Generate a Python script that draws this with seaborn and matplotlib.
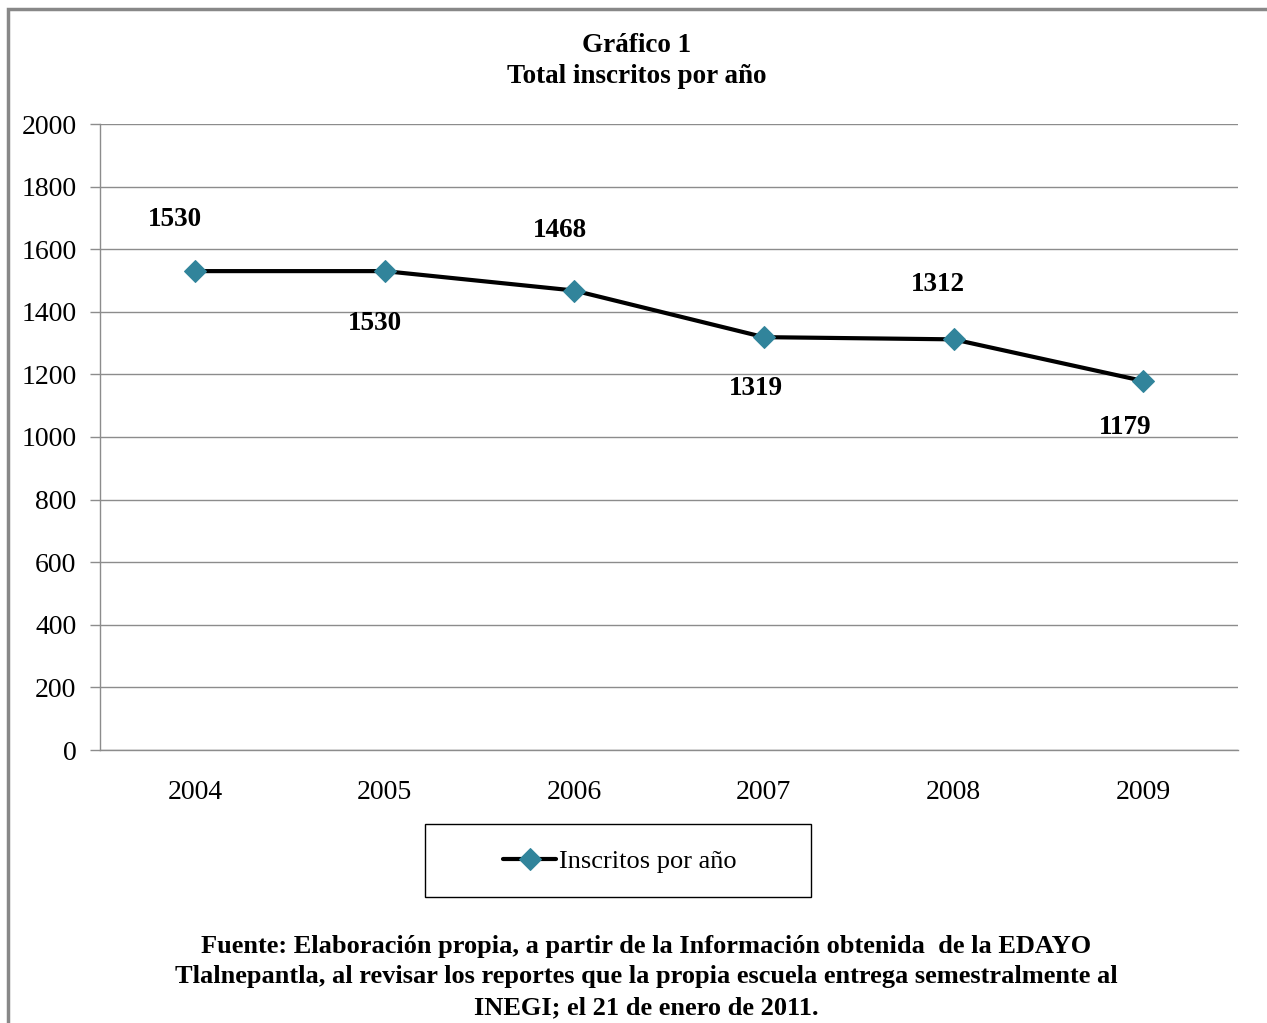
import seaborn as sns
import matplotlib.pyplot as plt
import matplotlib.patches as mpatches
import pandas as pd

# datos
years = ["2004", "2005", "2006", "2007", "2008", "2009"]
inscritos = [1530, 1530, 1468, 1319, 1312, 1179]
serie = "Inscritos por año"
titulo = "Gráfico 1\nTotal inscritos por año"
fuente = ("Fuente: Elaboración propia, a partir de la Información obtenida  de la EDAYO\n"
          "Tlalnepantla, al revisar los reportes que la propia escuela entrega semestralmente al\n"
          "INEGI; el 21 de enero de 2011.")
yticks = [0, 200, 400, 600, 800, 1000, 1200, 1400, 1600, 1800, 2000]

df = pd.DataFrame({"year": years, "value": inscritos, "serie": serie})

sns.set_style("white")
plt.rcParams["font.family"] = ["Liberation Serif", "DejaVu Serif"]
plt.rcParams["text.color"] = "black"

fig = plt.figure(figsize=(12.67, 10.23), dpi=100)
ax = fig.add_axes([100 / 1267, 1 - 750 / 1023, 1138 / 1267, 626 / 1023])

teal = "#31849B"
sns.lineplot(data=df, x="year", y="value", hue="serie", palette=["black"],
             marker="D", markersize=11, markerfacecolor=teal, markeredgecolor=teal,
             linewidth=3, sort=False, ax=ax, legend=True)

ax.set_xlim(-0.5, len(years) - 0.5)
ax.set_ylim(0, 2000)
ax.set_yticks(yticks)
ax.set_xlabel("")
ax.set_ylabel("")
ax.yaxis.grid(True, color="#8c8c8c", linewidth=1)
ax.set_axisbelow(True)
for s in ["top", "right"]:
    ax.spines[s].set_visible(False)
for s in ["left", "bottom"]:
    ax.spines[s].set_color("#8c8c8c")
    ax.spines[s].set_linewidth(1)
ax.tick_params(axis="y", left=True, length=7, width=1, color="#8c8c8c",
               labelcolor="black", labelsize=20, pad=10)
ax.tick_params(axis="x", bottom=False, labelcolor="black", labelsize=20, pad=18)

# etiquetas de datos (arriba / abajo)
offsets = [(-20, 52), (-10, -52), (-14, 60), (-8, -51), (-16, 55), (-18, -47)]
for i, (v, off) in enumerate(zip(inscritos, offsets)):
    ax.annotate(str(v), (i, v), xytext=off, textcoords="offset pixels",
                ha="center", va="center", fontsize=19.5, fontweight="bold")

# leyenda
leg = ax.legend(loc="center", bbox_to_anchor=(620 / 1267, 1 - 861 / 1023),
                bbox_transform=fig.transFigure, frameon=False, fontsize=19,
                handlelength=2.0, handletextpad=0.1)
fig.patches.append(mpatches.Rectangle((425 / 1267, 1 - 897 / 1023), 386 / 1267, 73 / 1023,
                                      transform=fig.transFigure, fill=False,
                                      edgecolor="black", linewidth=1))

# marco exterior
fig.patches.append(mpatches.Rectangle((8 / 1267, -0.1), 1.2, 1.1 - 9 / 1023,
                                      transform=fig.transFigure, fill=False,
                                      edgecolor="#888888", linewidth=2.5))

fig.text(637 / 1267, 1 - 61 / 1023, titulo, ha="center", va="center",
         fontsize=19.5, fontweight="bold", linespacing=1.35)
fig.text(646 / 1267, 1 - 977 / 1023, fuente, ha="center", va="center",
         fontsize=19, fontweight="bold", linespacing=1.42)

fig.savefig("out.png", dpi=100)
